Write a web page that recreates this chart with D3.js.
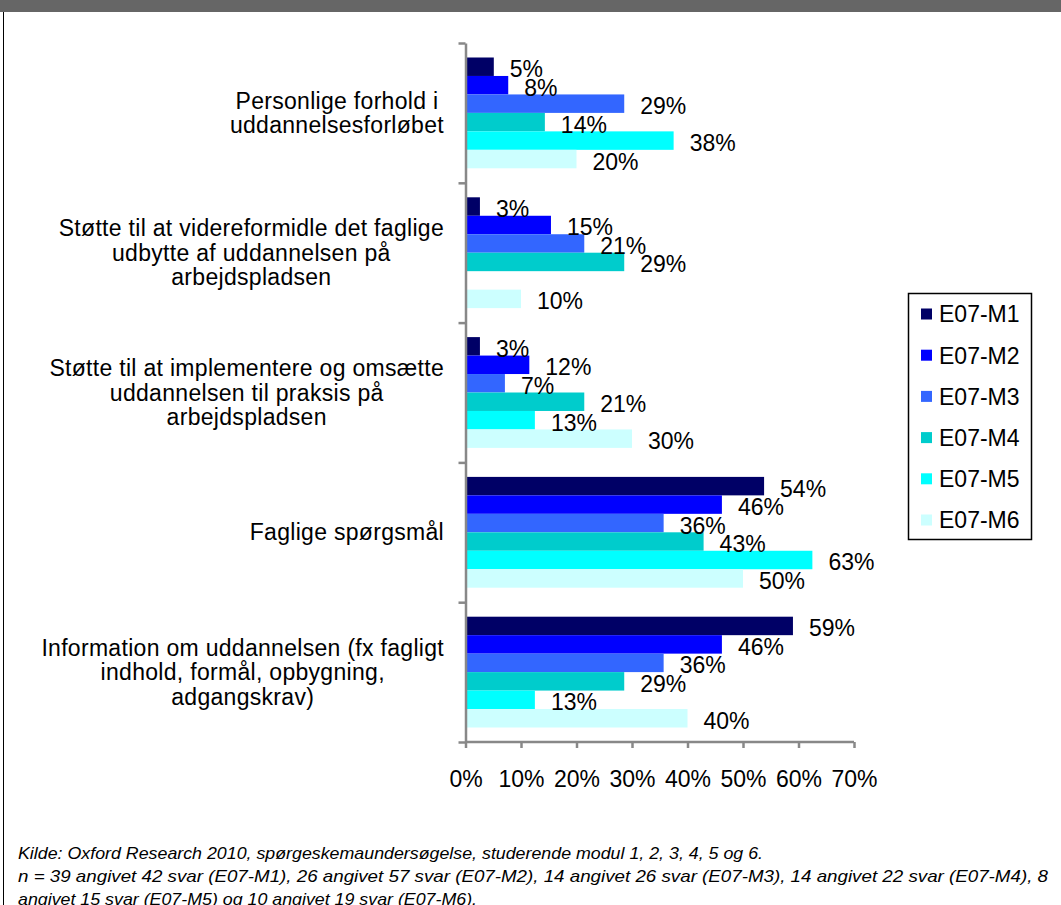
<!DOCTYPE html>
<html>
<head>
<meta charset="utf-8">
<script src="https://cdn.jsdelivr.net/npm/d3@7"></script>
<style>
  html, body { margin: 0; padding: 0; background: #fff; }
  svg { display: block; }
  text { font-family: "Liberation Sans", Arial, sans-serif; fill: #000; }
</style>
</head>
<body>
<svg id="chart" width="1061" height="905"></svg>
<script>
// ---- data ----
const categories = [
  ["Personlige forhold i", "uddannelsesforløbet"],
  ["Støtte til at videreformidle det faglige", "udbytte af uddannelsen på", "arbejdspladsen"],
  ["Støtte til at implementere og omsætte", "uddannelsen til praksis på", "arbejdspladsen"],
  ["Faglige spørgsmål"],
  ["Information om uddannelsen (fx fagligt", "indhold, formål, opbygning,", "adgangskrav)"]
];
const seriesNames = ["E07-M1", "E07-M2", "E07-M3", "E07-M4", "E07-M5", "E07-M6"];
// values in percent, per series, in category order (null = no bar)
const m1 = [5.1, 2.6, 2.6, 53.8, 59.0];
const m2 = [7.7, 15.4, 11.5, 46.2, 46.2];
const m3 = [28.6, 21.4, 7.1, 35.7, 35.7];
const m4 = [14.3, 28.6, 21.4, 42.9, 28.6];
const m5 = [37.5, null, 12.5, 62.5, 12.5];
const m6 = [20, 10, 30, 50, 40];
const xTicks = [0, 10, 20, 30, 40, 50, 60, 70];
const footnotes = [
  "Kilde: Oxford Research 2010, spørgeskemaundersøgelse, studerende modul 1, 2, 3, 4, 5 og 6.",
  "n = 39 angivet 42 svar (E07-M1), 26 angivet 57 svar (E07-M2), 14 angivet 26 svar (E07-M3), 14 angivet 22 svar (E07-M4), 8",
  "angivet 15 svar (E07-M5) og 10 angivet 19 svar (E07-M6)."
];

const seriesValues = [m1, m2, m3, m4, m5, m6];
const colors = ["#000066", "#0000FF", "#3366FF", "#00CCCC", "#00FFFF", "#CCFFFF"];

const svg = d3.select("#chart");

// frame
svg.append("rect").attr("x", 0).attr("y", 0).attr("width", 1061).attr("height", 12).attr("fill", "#666666");
svg.append("line").attr("x1", 3.5).attr("x2", 3.5).attr("y1", 12).attr("y2", 905).attr("stroke", "#000").attr("stroke-width", 1);

// scales
const x = d3.scaleLinear().domain([0, 70]).range([465.5, 854]);
const catIdx = categories.map((c, i) => i);
const y0 = d3.scaleBand().domain(catIdx).range([43, 742]).paddingInner(0).paddingOuter(0);
const bw = y0.bandwidth();
const y1 = d3.scaleBand().domain(seriesNames).range([14.5, bw - 14.5]);

// bars
const g = svg.append("g");
categories.forEach((cat, ci) => {
  const gg = g.append("g").attr("transform", `translate(0,${y0(ci)})`);
  seriesNames.forEach((s, si) => {
    const v = seriesValues[si][ci];
    if (v == null) return;
    gg.append("rect")
      .attr("x", x(0))
      .attr("y", y1(s))
      .attr("width", x(v) - x(0))
      .attr("height", y1.bandwidth())
      .attr("fill", colors[si]);
  });
  seriesNames.forEach((s, si) => {
    const v = seriesValues[si][ci];
    if (v == null) return;
    gg.append("text")
      .attr("x", x(v) + 16)
      .attr("y", y1(s) + y1.bandwidth() / 2 + 10.5)
      .attr("font-size", 23)
      .text(Math.round(v) + "%");
  });
});

// y axis with boundary ticks
const yb = d3.scaleLinear().domain([0, categories.length]).range([43, 742]);
const yAxis = svg.append("g").attr("transform", `translate(${x(0)},0)`)
  .call(d3.axisLeft(yb).tickValues(d3.range(0, categories.length + 1)).tickFormat("").tickSize(7).tickSizeOuter(0));
yAxis.selectAll("path, line").attr("stroke", "#888").attr("stroke-width", 2.5);

// x axis
const xAxis = svg.append("g").attr("transform", `translate(0,742)`)
  .call(d3.axisBottom(x).tickValues(xTicks).tickFormat(d => d + "%").tickSize(6).tickSizeOuter(0));
xAxis.selectAll("path, line").attr("stroke", "#888").attr("stroke-width", 2.5);
xAxis.select(".domain").attr("d", `M${x(0)},0H${x(70)}`);
xAxis.selectAll("text").attr("font-size", 23).attr("font-family", '"Liberation Sans", Arial, sans-serif')
  .attr("fill", "#000").attr("dy", null).attr("y", 45);

// category labels
const rightEdge = 444;
const lh = 24.5;
categories.forEach((lines, ci) => {
  const cy = y0(ci) + bw / 2;
  const t = svg.append("text").attr("font-size", 23).attr("text-anchor", "middle").attr("letter-spacing", 0.3);
  const spans = lines.map((ln, li) => t.append("tspan")
    .attr("y", cy + (li - (lines.length - 1) / 2) * lh + 8)
    .text(ln));
  const maxW = d3.max(spans, s => s.node().getComputedTextLength());
  spans.forEach(s => s.attr("x", rightEdge - maxW / 2));
});

// legend
svg.append("rect").attr("x", 908.5).attr("y", 293.5).attr("width", 123).attr("height", 246)
  .attr("fill", "#fff").attr("stroke", "#000").attr("stroke-width", 1.5);
const ly = d3.scalePoint().domain(seriesNames).range([314, 520]);
seriesNames.forEach((s, si) => {
  svg.append("rect").attr("x", 921).attr("y", ly(s) - 5.5).attr("width", 11).attr("height", 11).attr("fill", colors[si]);
  svg.append("text").attr("x", 939).attr("y", ly(s) + 8.3).attr("font-size", 23).text(s);
});

// footnotes: horizontally compressed italic text
const fn = footnotes.map((f, i) => svg.append("text").attr("x", 18).attr("y", 859 + i * 23)
  .attr("font-size", 17).attr("font-style", "italic").text(f));
const w0 = fn[0].node().getComputedTextLength();
const r1 = 745 / w0;
const r2 = 1030 / fn[1].node().getComputedTextLength();
[r1, r2, r1].forEach((r, i) => {
  const w = fn[i].node().getComputedTextLength();
  fn[i].attr("textLength", w * r).attr("lengthAdjust", "spacingAndGlyphs");
});
</script>
</body>
</html>
